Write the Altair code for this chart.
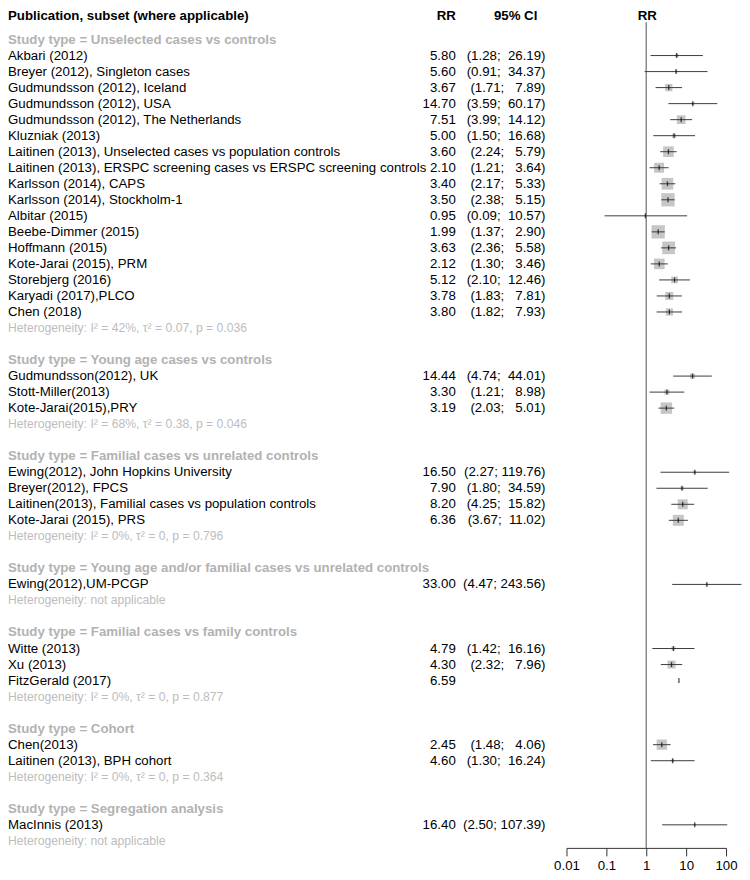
import altair as alt
import pandas as pd

FONT = "Liberation Sans"
NB = "\u00a0"

group_titles = [
    "Study type = Unselected cases vs controls",
    "Study type = Young age cases vs controls",
    "Study type = Familial cases vs unrelated controls",
    "Study type = Young age and/or familial cases vs unrelated controls",
    "Study type = Familial cases vs family controls",
    "Study type = Cohort",
    "Study type = Segregation analysis",
]
heterogeneity = [
    "Heterogeneity: I² = 42%, τ² = 0.07, p = 0.036",
    "Heterogeneity: I² = 68%, τ² = 0.38, p = 0.046",
    "Heterogeneity: I² = 0%, τ² = 0, p = 0.796",
    "Heterogeneity: not applicable",
    "Heterogeneity: I² = 0%, τ² = 0, p = 0.877",
    "Heterogeneity: I² = 0%, τ² = 0, p = 0.364",
    "Heterogeneity: not applicable",
]
studies = [
    "Akbari (2012)", "Breyer (2012), Singleton cases", "Gudmundsson (2012), Iceland",
    "Gudmundsson (2012), USA", "Gudmundsson (2012), The Netherlands", "Kluzniak (2013)",
    "Laitinen (2013),  Unselected cases vs population controls",
    "Laitinen (2013), ERSPC screening cases vs ERSPC screening controls",
    "Karlsson (2014), CAPS", "Karlsson (2014), Stockholm-1", "Albitar (2015)",
    "Beebe-Dimmer (2015)", "Hoffmann (2015)", "Kote-Jarai (2015), PRM", "Storebjerg (2016)",
    "Karyadi (2017),PLCO", "Chen (2018)",
    "Gudmundsson(2012), UK", "Stott-Miller(2013)", "Kote-Jarai(2015),PRY",
    "Ewing(2012), John Hopkins University", "Breyer(2012), FPCS",
    "Laitinen(2013), Familial cases vs population controls", "Kote-Jarai (2015), PRS",
    "Ewing(2012),UM-PCGP",
    "Witte (2013)", "Xu (2013)", "FitzGerald (2017)",
    "Chen(2013)", "Laitinen (2013), BPH cohort",
    "MacInnis  (2013)",
]
study_group = [0] * 17 + [1] * 3 + [2] * 4 + [3] + [4] * 3 + [5] * 2 + [6]
rr = [5.80, 5.60, 3.67, 14.70, 7.51, 5.00, 3.60, 2.10, 3.40, 3.50, 0.95, 1.99, 3.63, 2.12,
      5.12, 3.78, 3.80, 14.44, 3.30, 3.19, 16.50, 7.90, 8.20, 6.36, 33.00, 4.79, 4.30, 6.59,
      2.45, 4.60, 16.40]
lower = [1.28, 0.91, 1.71, 3.59, 3.99, 1.50, 2.24, 1.21, 2.17, 2.38, 0.09, 1.37, 2.36, 1.30,
         2.10, 1.83, 1.82, 4.74, 1.21, 2.03, 2.27, 1.80, 4.25, 3.67, 4.47, 1.42, 2.32, None,
         1.48, 1.30, 2.50]
upper = [26.19, 34.37, 7.89, 60.17, 14.12, 16.68, 5.79, 3.64, 5.33, 5.15, 10.57, 2.90, 5.58,
         3.46, 12.46, 7.81, 7.93, 44.01, 8.98, 5.01, 119.76, 34.59, 15.82, 11.02, 243.56,
         16.16, 7.96, None, 4.06, 16.24, 107.39]
weight = [12, 6, 53, 9, 75, 16, 114, 100, 137, 177, 2, 177, 161, 114, 45, 64, 53,
          25, 25, 130, 9, 12, 100, 121, 4, 16, 64, 0, 106, 9, 4]
header_left = ["Publication, subset (where applicable)"]
header_rr = ["RR"]
header_ci = ["95% CI"]
axis_ticks = [0.01, 0.1, 1, 10, 100]

# build row table
rows = []
r = 2
for g, title in enumerate(group_titles):
    rows.append(dict(row=r, kind="group", label=title))
    idx = [i for i, sg in enumerate(study_group) if sg == g]
    for k, i in enumerate(idx):
        rrs = f"{rr[i]:.2f}"
        if lower[i] is not None:
            up = f"{upper[i]:.2f}"
            ci = f"({lower[i]:.2f};" + NB * (1 + 6 - len(up)) + up + ")"
        else:
            ci = ""
        rows.append(dict(row=r + 1 + k, kind="study", label=studies[i], rrs=rrs, ci=ci,
                         rr=rr[i], lo=lower[i], up=upper[i], w=weight[i]))
    rows.append(dict(row=r + 1 + len(idx), kind="het", label=heterogeneity[g]))
    r = r + len(idx) + 3
df = pd.DataFrame(rows)

H = 841
yscale = alt.Scale(domain=[0.106, 52.44], reverse=True, nice=False, zero=False)
Y = alt.Y("row:Q", scale=yscale, axis=None)

base = alt.Chart(df)
lab_study = base.transform_filter("datum.kind == 'study'").mark_text(
    align="left", baseline="middle", font=FONT, fontSize=13.3, color="#000"
).encode(x=alt.value(0), y=Y, text="label:N")
lab_group = base.transform_filter("datum.kind == 'group'").mark_text(
    align="left", baseline="middle", font=FONT, fontSize=13.3, fontWeight="bold", color="#b2b2b2"
).encode(x=alt.value(0), y=Y, text="label:N")
lab_het = base.transform_filter("datum.kind == 'het'").mark_text(
    align="left", baseline="middle", font=FONT, fontSize=12.2, color="#bdbdbd"
).encode(x=alt.value(0), y=Y, text="label:N")
txt_rr = base.transform_filter("datum.kind == 'study'").mark_text(
    align="right", baseline="middle", font=FONT, fontSize=13.3, color="#000"
).encode(x=alt.value(449), y=Y, text="rrs:N")
txt_ci = base.transform_filter("datum.kind == 'study'").mark_text(
    align="right", baseline="middle", font=FONT, fontSize=13.3, color="#000"
).encode(x=alt.value(539), y=Y, text="ci:N")

def head(texts, x, align):
    return alt.Chart(pd.DataFrame({"t": texts})).mark_text(
        align=align, baseline="top", font=FONT, fontSize=13.3, fontWeight="bold", color="#000"
    ).encode(x=alt.value(x), y=alt.value(0), text="t:N")

left = alt.layer(
    lab_study, lab_group, lab_het, txt_rr, txt_ci,
    head(header_left, 0, "left"), head(header_rr, 449, "right"), head(header_ci, 509, "center"),
).properties(width=560, height=H)

xscale = alt.Scale(type="log", domain=[0.01, 100], nice=False)
xaxis = alt.Axis(values=axis_ticks, format="~g", grid=False, tickSize=8, labelFontSize=13.3,
                 labelFont=FONT, labelColor="#000", domainColor="#333", tickColor="#333",
                 labelPadding=3, labelFlush=False, labelOverlap=False, title=None)
sdf = base.transform_filter("datum.kind == 'study'")
ref = alt.Chart(pd.DataFrame({"v": [1]})).mark_rule(color="#8a8a8a", strokeWidth=1.5).encode(
    x=alt.X("v:Q", scale=xscale, axis=xaxis), y=alt.value(13), y2=alt.value(H)
)
squares = sdf.transform_filter("datum.w > 0").mark_square(color="#c6c6c6", opacity=1).encode(
    x=alt.X("rr:Q", scale=xscale),
    y=Y,
    size=alt.Size("w:Q", scale=alt.Scale(type="linear", domain=[0, 200], range=[0, 200]), legend=None),
)
cis = sdf.transform_filter("isValid(datum.lo)").mark_rule(color="#3c3c3c", strokeWidth=1).encode(
    x=alt.X("lo:Q", scale=xscale), x2="up:Q", y=Y
)
est = sdf.mark_tick(color="#000", orient="vertical", size=5, thickness=1.3).encode(
    x=alt.X("rr:Q", scale=xscale), y=Y
)
rr_head = alt.Chart(pd.DataFrame({"t": header_rr})).mark_text(
    align="center", baseline="top", font=FONT, fontSize=13.3, fontWeight="bold", color="#000"
).encode(x=alt.value(81), y=alt.value(0), text="t:N")

right = alt.layer(ref, squares, cis, est, rr_head).properties(width=160, height=H)

chart = alt.hconcat(left, right, spacing=0, bounds="flush").properties(padding=0).configure_view(stroke=None)
chart.save("out.html", embed_options={"renderer": "svg", "actions": False})
